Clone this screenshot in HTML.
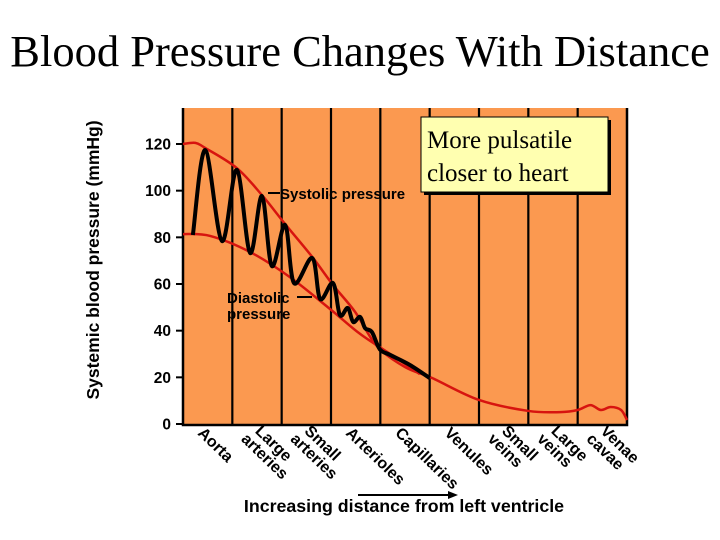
<!DOCTYPE html>
<html><head><meta charset="utf-8"><style>
html,body{margin:0;padding:0;background:#fff;width:720px;height:540px;overflow:hidden}
svg text{font-family:"Liberation Sans",Arial,sans-serif;font-weight:bold}
</style></head><body>
<svg id="chart" width="720" height="540" viewBox="0 0 720 540" xmlns="http://www.w3.org/2000/svg">
<text x="360" y="66" text-anchor="middle" style="font-family:'Liberation Serif',serif;font-weight:normal;font-size:44.5px">Blood Pressure Changes With Distance</text>
<g id="plot"></g>
<text transform="translate(99,260) rotate(-90)" text-anchor="middle" font-size="17.5">Systemic blood pressure (mmHg)</text>
<text x="404" y="512" text-anchor="middle" font-size="17.8">Increasing distance from left ventricle</text>
<line x1="358" y1="495" x2="452" y2="495" stroke="#000" stroke-width="2"/>
<polygon points="458,495 448,491 448,499" fill="#000"/>
<text x="280" y="199" font-size="15">Systolic pressure</text>
<line x1="268" y1="193" x2="280" y2="193" stroke="#000" stroke-width="2"/>
<text x="227" y="303" font-size="15">Diastolic</text>
<text x="227" y="319" font-size="15">pressure</text>
<line x1="297" y1="297" x2="312" y2="297" stroke="#000" stroke-width="2"/>
<rect x="424" y="120" width="187" height="75" fill="#000"/>
<rect x="421" y="117" width="187" height="75" fill="#ffffb0" stroke="#000" stroke-width="1"/>
<text x="427" y="148" style="font-family:'Liberation Serif',serif;font-weight:normal;font-size:25px">More pulsatile</text>
<text x="427" y="181" style="font-family:'Liberation Serif',serif;font-weight:normal;font-size:25px">closer to heart</text>
</svg>
<script>
const categories=[["Aorta"],["Large","arteries"],["Small","arteries"],["Arterioles"],["Capillaries"],["Venules"],["Small","veins"],["Large","veins"],["Venae","cavae"]];
const yTicks=[0,20,40,60,80,100,120];
const sysX=[0,0.25,0.45,1.09,1.6,2.07,2.62,3.04,3.49,3.93,4.5,5.05,6.0,7.0,7.65,8.0,8.26,8.47,8.67,8.88,9.0];
const sysY=[120,120.5,118.3,109.7,98.1,85.7,71.6,59.6,48,33.4,24.4,19.7,10.3,5.6,5.1,6.0,8.1,6.0,7.3,6.0,1.7];
const diaX=[0,0.55,1.36,2.17,2.98,3.59,4.2,4.8];
const diaY=[81.4,80.6,73.7,62.9,49.3,38.6,30.0,21.4];
const waveX=[0.2,0.45,0.79,1.09,1.36,1.6,1.8,2.07,2.25,2.62,2.78,3.04,3.18,3.34,3.45,3.59,3.69,3.83,3.99,4.2,4.6,5.0];
const waveY=[81,117.4,78.4,108.9,73.3,97.7,67.7,85.3,60.4,71.1,53.6,60.4,46.7,49.7,43.7,45.9,41.1,39.4,32,29.6,25.3,19.7];
const NS="http://www.w3.org/2000/svg";
const L=183,R=627,T=108,B=425;
const xs=u=>L+u*(R-L)/categories.length;
const ys=v=>424-v*(424-144)/120;
const g=document.getElementById('plot');
function mk(t,a){const e=document.createElementNS(NS,t);for(const k in a)e.setAttribute(k,a[k]);g.appendChild(e);return e;}
let e=mk('rect',{x:L,y:T,width:R-L,height:B-T,fill:'#fb9950'});


for(let i=1;i<categories.length;i++){
 e=mk('line',{x1:xs(i),y1:T,x2:xs(i),y2:B,stroke:'#000','stroke-width':2.2});
 
 
}
e=mk('path',{d:`M${L},${T}V${B}H${R}V${T}`,fill:'none',stroke:'#000','stroke-width':2.5});


yTicks.forEach(v=>{
 let t=mk('line',{x1:L-7,y1:ys(v),x2:L,y2:ys(v),stroke:'#000','stroke-width':2});
 
 
 let tx=mk('text',{x:L-12,y:ys(v)+5.5,'text-anchor':'end','font-size':15.5});
 tx.textContent=v;
 
 
});
function smooth(X,Y){
 const p=X.map((x,i)=>[xs(x),ys(Y[i])]);
 let d=`M${p[0][0]},${p[0][1]}`;
 for(let i=0;i<p.length-1;i++){
  const p0=p[i-1]||p[i],p1=p[i],p2=p[i+1],p3=p[i+2]||p2;
  const c1=[p1[0]+(p2[0]-p0[0])/6,p1[1]+(p2[1]-p0[1])/6],c2=[p2[0]-(p3[0]-p1[0])/6,p2[1]-(p3[1]-p1[1])/6];
  d+=`C${c1[0]},${c1[1]} ${c2[0]},${c2[1]} ${p2[0]},${p2[1]}`;
 }
 return d;
}
e=mk('path',{d:smooth(sysX,sysY),fill:'none',stroke:'#d7140f','stroke-width':2.5});


e=mk('path',{d:smooth(diaX,diaY),fill:'none',stroke:'#d7140f','stroke-width':2.5});


e=mk('path',{d:smooth(waveX,waveY),fill:'none',stroke:'#000','stroke-width':4,'stroke-linejoin':'round'});


categories.forEach((lines,i)=>{
 const x0=xs(i)+14, y0=B+9;
 lines.forEach((s,j)=>{
  const off=lines.length===2?(j===0?8:-6):0;
  const t=mk('text',{transform:`translate(${x0+off},${y0+(j===0?0:6)+(lines.length===2&&j===0?-2:0)}) rotate(44)`,'font-size':16});
  t.textContent=s;
  
  
 });
});
</script>
</body></html>
